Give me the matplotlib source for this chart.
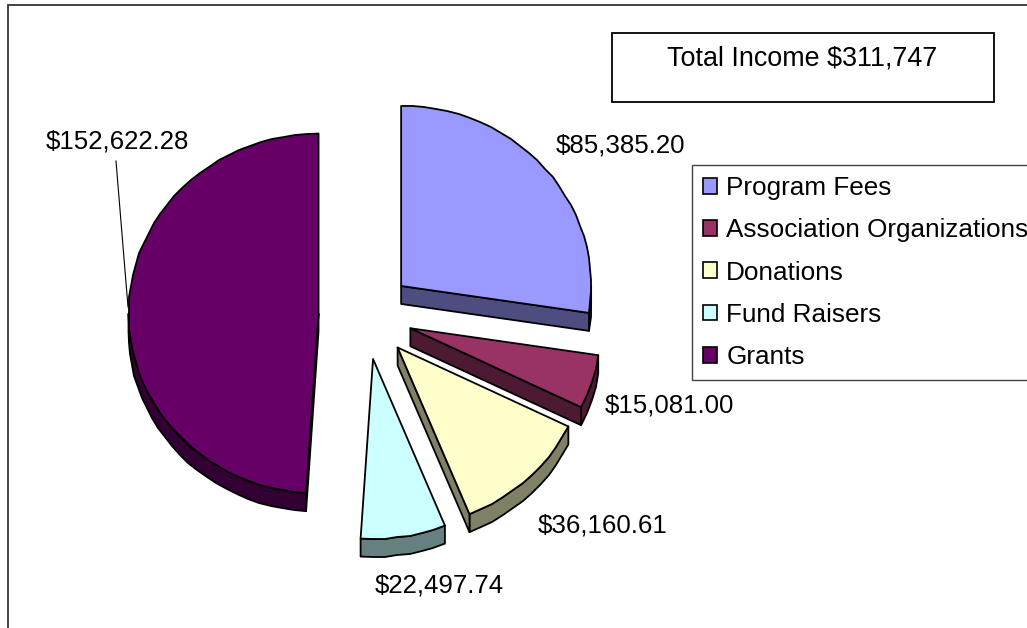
import numpy as np
import matplotlib
matplotlib.use("Agg")
import matplotlib.pyplot as plt
from matplotlib.patches import Polygon, Patch, Rectangle

plt.rcParams['font.family'] = ['Liberation Sans', 'DejaVu Sans']

categories = ["Program Fees", "Association Organizations", "Donations", "Fund Raisers", "Grants"]
values = [85385.20, 15081.00, 36160.61, 22497.74, 152622.28]
value_labels = ["$85,385.20", "$15,081.00", "$36,160.61", "$22,497.74", "$152,622.28"]
top_colors = ["#9999FF", "#993366", "#FFFFCC", "#CCFFFF", "#660066"]
side_colors = ["#4D4D80", "#4D1A33", "#808066", "#668080", "#330033"]
title_text = "Total Income $311,747"

W, H = 1027, 628
CX, CY = 365.5, 315.0
RX, RY = 190.0, 180.0
EXPLODE = 47.0
DEPTH = 18.0
FS = 18.6
label_pos = [(556, 153), (605, 413), (538, 533), (375, 593), (46, 148)]

fig = plt.figure(figsize=(W / 100, H / 100), dpi=100, facecolor="white")
ax = fig.add_axes([0, 0, 1, 1])
ax.set_xlim(0, W)
ax.set_ylim(H, 0)
ax.axis("off")

# Outer chart-area border: open at the right and bottom
ax.plot([8, 8, W], [H, 4.5, 4.5], color="#333333", lw=1.3, zorder=1, solid_joinstyle="miter")


def pt(c, theta):
    x = c[0] + RX * np.sin(theta)
    y = c[1] - RY * np.cos(theta)
    return np.column_stack([x, y])


def arc(c, t0, t1):
    n = max(int(np.degrees(t1 - t0) / 3.5), 2)
    t = np.linspace(t0, t1, n + 1)
    p = pt(c, t)
    # slightly stepped outline of the low-resolution original
    q = p.copy()
    q[1:-1] = np.round(p[1:-1])
    return q


fracs = np.array(values) / np.sum(values)
edges = np.concatenate([[0], np.cumsum(fracs)]) * 2 * np.pi
down = np.array([0, DEPTH])
EK = dict(edgecolor="black", linewidth=1.3, joinstyle="round")

for i, (t0, t1) in enumerate(zip(edges[:-1], edges[1:])):
    mid = (t0 + t1) / 2
    c = np.array([CX + EXPLODE * np.sin(mid), CY - EXPLODE * np.cos(mid) * RY / RX])
    # outer rim faces the viewer between 90 and 270 degrees
    a, b = max(t0, np.pi / 2), min(t1, 3 * np.pi / 2)
    if b > a:
        rim = arc(c, a, b)
        ax.add_patch(Polygon(np.vstack([rim, (rim + down)[::-1]]), facecolor=side_colors[i], zorder=2, **EK))
    # cut faces that turn towards the viewer
    for t, sign in ((t0, -1), (t1, 1)):
        if -np.cos(t + sign * np.pi / 2) > 0:
            e = pt(c, np.array([t]))[0]
            ax.add_patch(Polygon([c, e, e + down, c + down], facecolor=side_colors[i], zorder=2, **EK))
    top = np.vstack([[c], arc(c, t0, t1)])
    ax.add_patch(Polygon(top, facecolor=top_colors[i], zorder=3, **EK))

for s, (x, y) in zip(value_labels, label_pos):
    ax.text(x, y, s, fontsize=FS, color="black", ha="left", va="baseline", zorder=6)

# Leader line for the Grants label
ax.plot([116, 128], [161, 307], color="black", lw=0.8, zorder=5)

# Title box
ax.add_patch(Rectangle((611.5, 32.5), 382, 69, facecolor="white", edgecolor="black", lw=1.3, zorder=4))
ax.text(802.5, 65.5, title_text, fontsize=19.4, ha="center", va="baseline", zorder=6)

# Legend
handles = [Patch(facecolor=c, edgecolor="black", linewidth=1.2) for c in top_colors]
leg = ax.legend(handles, categories, loc="upper left", bbox_to_anchor=(692, 165),
                bbox_transform=ax.transData, borderaxespad=0, fontsize=18.8, frameon=True,
                fancybox=False, edgecolor="#444444", facecolor="white", framealpha=1,
                handlelength=0.54, handleheight=0.54, handletextpad=0.35, borderpad=0.42,
                labelspacing=0.7)
leg.get_frame().set_linewidth(1.0)
leg.set_zorder(4)

fig.savefig("out.png", dpi=100)
